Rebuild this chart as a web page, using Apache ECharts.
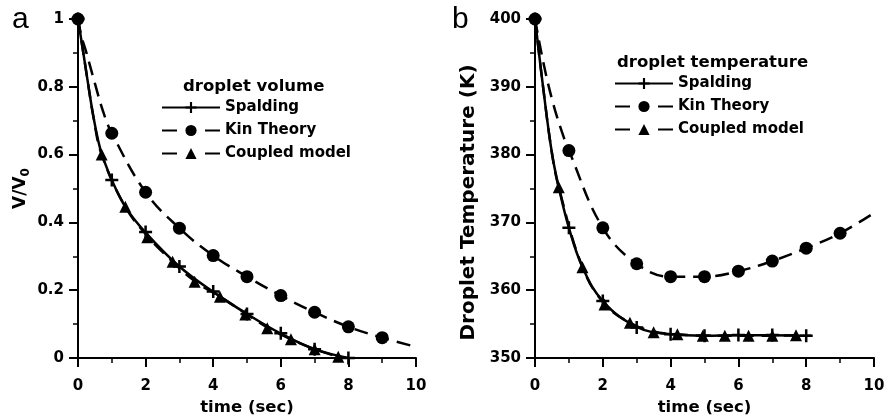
<!DOCTYPE html>
<html>
<head>
<meta charset="utf-8">
<title>droplet volume / droplet temperature</title>
<script src="https://cdn.jsdelivr.net/npm/echarts@6/dist/echarts.min.js"></script>
<style>
  html, body { margin: 0; padding: 0; background: #fff; }
  #chart { width: 885px; height: 418px; }
</style>
</head>
<body>
<div id="chart"></div>
<script>
// ---- data ----
const timeTicks = [0, 2, 4, 6, 8, 10]

// panel a : V/V0
const volSpaldingCurve = [[0, 1], [0.15, 0.905], [0.3, 0.808], [0.45, 0.715], [0.6, 0.64], [0.71, 0.6], [1, 0.525], [1.4, 0.446], [2, 0.37], [3, 0.27], [4, 0.195], [5, 0.13], [6, 0.072], [7, 0.026], [8, 0]]
const volSpaldingMarks = [[0, 1], [1, 0.525], [2, 0.372], [3, 0.27], [4, 0.196], [5, 0.13], [6, 0.073], [7, 0.026], [8, 0]]
const volKinCurve = [[0, 1], [0.1, 0.95], [0.25, 0.9], [0.5, 0.81], [0.75, 0.725], [1, 0.663], [2, 0.489], [3, 0.383], [4, 0.302], [5, 0.24], [6, 0.184], [7, 0.135], [8, 0.092], [9, 0.06], [10, 0.033]]
const volKinMarks = [[0, 1], [1, 0.663], [2, 0.489], [3, 0.383], [4, 0.302], [5, 0.24], [6, 0.184], [7, 0.135], [8, 0.092], [9, 0.06]]
const volCoupledCurve = [[0, 1], [0.15, 0.905], [0.3, 0.808], [0.45, 0.715], [0.7, 0.6], [1.4, 0.446], [2.05, 0.36], [2.8, 0.284], [3.45, 0.227], [4.2, 0.181], [4.95, 0.132], [5.6, 0.09], [6.3, 0.055], [7, 0.026], [7.7, 0.004]]
const volCoupledMarks = [[0.7, 0.6], [1.4, 0.446], [2.05, 0.356], [2.8, 0.284], [3.45, 0.225], [4.2, 0.181], [4.95, 0.128], [5.6, 0.088], [6.3, 0.055], [7, 0.026], [7.7, 0.004]]

// panel b : droplet temperature (K)
const tempSpaldingCurve = [[0, 400], [0.25, 389.5], [0.5, 380.2], [0.7, 375.2], [1, 369.2], [1.4, 363.4], [2, 358.4], [3, 354.6], [4, 353.5], [5, 353.3], [6, 353.35], [7, 353.35], [8, 353.3], [8.15, 353.3]]
const tempSpaldingMarks = [[0, 400], [1, 369.2], [2, 358.4], [3, 354.5], [4, 353.5], [5, 353.3], [6, 353.4], [7, 353.4], [8, 353.3]]
const tempKinCurve = [[0, 400], [0.25, 393.5], [0.5, 388.2], [0.75, 384], [1, 380.6], [2, 369.2], [3, 363.9], [4, 362], [5, 362], [6, 362.8], [7, 364.3], [8, 366.2], [9, 368.4], [10, 371.4]]
const tempKinMarks = [[0, 400], [1, 380.6], [2, 369.2], [3, 363.9], [4, 362], [5, 362], [6, 362.8], [7, 364.3], [8, 366.2], [9, 368.4]]
const tempCoupledCurve = [[0, 400], [0.25, 389.5], [0.5, 380.2], [0.7, 375.2], [1.4, 363.4], [2.05, 358], [2.8, 355.2], [3.5, 353.9], [4.2, 353.5], [4.95, 353.3], [5.6, 353.3], [6.3, 353.3], [7, 353.3], [7.7, 353.35]]
const tempCoupledMarks = [[0.7, 375.2], [1.4, 363.4], [2.05, 357.9], [2.8, 355.2], [3.5, 353.8], [4.2, 353.5], [4.95, 353.3], [5.6, 353.3], [6.3, 353.3], [7, 353.3], [7.7, 353.35]]

const seriesNames = ['Spalding', 'Kin Theory', 'Coupled model']

// ---- styles ----
const FONT = 'DejaVu Sans'
const INK = '#000'
const DASH = [14, 8]
const PLUS = 'path://M5.25,0h2.5v5.25h5.25v2.5h-5.25v5.25h-2.5v-5.25h-5.25v-2.5h5.25z'

const chart = echarts.init(document.getElementById('chart'), null, { renderer: 'canvas' })

const xAxisBase = (gridIndex) => ({
  gridIndex,
  type: 'value',
  min: timeTicks[0],
  max: timeTicks[timeTicks.length - 1],
  interval: 2,
  name: 'time (sec)',
  nameLocation: 'middle',
  nameGap: 40,
  nameTextStyle: { fontFamily: FONT, fontSize: 16.5, fontWeight: 'bold', color: INK },
  axisLine: { onZero: false, lineStyle: { color: INK, width: 2 } },
  axisTick: { length: 9, lineStyle: { color: INK, width: 2 } },
  minorTick: { show: true, splitNumber: 2, length: 5, lineStyle: { color: INK, width: 1.5 } },
  splitLine: { show: false },
  axisLabel: { margin: 21, fontFamily: FONT, fontSize: 15, fontWeight: 'bold', color: INK }
})

const yAxisBase = (gridIndex) => ({
  gridIndex,
  type: 'value',
  nameLocation: 'middle',
  axisLine: { show: true, onZero: false, lineStyle: { color: INK, width: 2 } },
  axisTick: { show: true, length: 9, lineStyle: { color: INK, width: 2 } },
  minorTick: { show: true, splitNumber: 2, length: 5, lineStyle: { color: INK, width: 1.5 } },
  splitLine: { show: false },
  axisLabel: { margin: 14, fontFamily: FONT, fontSize: 15, fontWeight: 'bold', color: INK }
})

// curve drawn as a plain line, markers laid on top as scatter
const curve = (name, data, symbol, dashed, idx) => ({
  name,
  type: 'line',
  xAxisIndex: idx,
  yAxisIndex: idx,
  data,
  smooth: 0.4,
  symbol,
  showSymbol: false,
  lineStyle: { color: INK, width: 2.5, type: dashed ? DASH : 'solid' },
  itemStyle: { color: INK },
  z: 2
})

const marks = (name, data, symbol, size, idx) => ({
  name,
  type: 'scatter',
  xAxisIndex: idx,
  yAxisIndex: idx,
  data,
  symbol,
  symbolSize: size,
  itemStyle: { color: INK, opacity: 1 },
  z: 3
})

const legendBase = (left, top) => ({
  orient: 'vertical',
  left,
  top,
  padding: 0,
  itemWidth: 58,
  itemHeight: 14,
  itemGap: 8,
  selectedMode: false,
  textStyle: { fontFamily: FONT, fontSize: 15, fontWeight: 'bold', color: INK },
  data: [
    { name: seriesNames[0] },
    { name: seriesNames[1], lineStyle: { type: [15, 28] } },
    { name: seriesNames[2], lineStyle: { type: [15, 28] } }
  ]
})

const option = {
  animation: false,
  backgroundColor: '#fff',
  title: [
    { text: 'a', left: 12, top: 5, padding: 0, textStyle: { fontFamily: 'Liberation Sans', fontSize: 30, fontWeight: 'normal', color: INK } },
    { text: 'b', left: 452, top: 5, padding: 0, textStyle: { fontFamily: 'Liberation Sans', fontSize: 30, fontWeight: 'normal', color: INK } },
    { text: 'droplet volume', left: 183, top: 78, padding: 0, textStyle: { fontFamily: FONT, fontSize: 16.5, fontWeight: 'bold', color: INK } },
    { text: 'droplet temperature', left: 617, top: 54, padding: 0, textStyle: { fontFamily: FONT, fontSize: 16.5, fontWeight: 'bold', color: INK } }
  ],
  legend: [legendBase(161, 100), legendBase(614, 76)],
  grid: [
    { left: 78, top: 19, width: 338, height: 339, outerBoundsMode: 'none' },
    { left: 535, top: 19, width: 339, height: 339, outerBoundsMode: 'none' }
  ],
  xAxis: [xAxisBase(0), xAxisBase(1)],
  yAxis: [
    Object.assign(yAxisBase(0), {
      min: 0, max: 1, interval: 0.2,
      name: 'V/V{sub|0}',
      nameGap: 46,
      nameTextStyle: {
        fontFamily: FONT, fontSize: 17, fontWeight: 'bold', color: INK, lineHeight: 22,
        rich: { sub: { fontFamily: FONT, fontSize: 12, fontWeight: 'bold', color: INK, verticalAlign: 'bottom', lineHeight: 12 } }
      }
    }),
    Object.assign(yAxisBase(1), {
      min: 350, max: 400, interval: 10,
      name: 'Droplet Temperature (K)',
      nameGap: 56,
      nameTextStyle: { fontFamily: FONT, fontSize: 20, fontWeight: 'bold', color: INK, padding: [0, 28, 0, 0] }
    })
  ],
  series: [
    curve(seriesNames[0], volSpaldingCurve, PLUS, false, 0),
    curve(seriesNames[1], volKinCurve, 'circle', true, 0),
    curve(seriesNames[2], volCoupledCurve, 'triangle', true, 0),
    marks(seriesNames[0], volSpaldingMarks, PLUS, 13, 0),
    marks(seriesNames[1], volKinMarks, 'circle', 13, 0),
    marks(seriesNames[2], volCoupledMarks, 'triangle', 12, 0),

    curve(seriesNames[0], tempSpaldingCurve, PLUS, false, 1),
    curve(seriesNames[1], tempKinCurve, 'circle', true, 1),
    curve(seriesNames[2], tempCoupledCurve, 'triangle', true, 1),
    marks(seriesNames[0], tempSpaldingMarks, PLUS, 13, 1),
    marks(seriesNames[1], tempKinMarks, 'circle', 13, 1),
    marks(seriesNames[2], tempCoupledMarks, 'triangle', 12, 1)
  ]
}

chart.setOption(option)

window.addEventListener('resize', () => chart.resize())
</script>
</body>
</html>
